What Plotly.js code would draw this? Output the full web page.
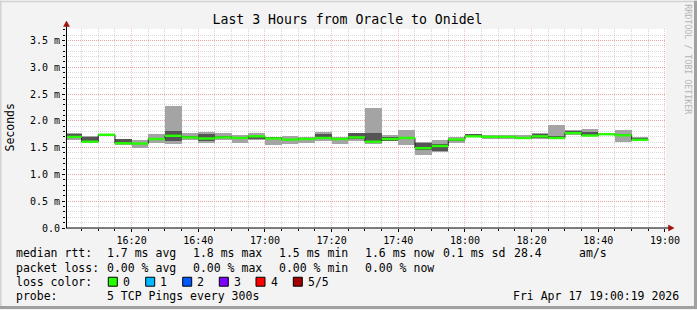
<!DOCTYPE html>
<html><head><meta charset="utf-8">
<script src="https://cdn.plot.ly/plotly-3.0.1.min.js"></script>
<style>html,body{margin:0;padding:0;background:#f3f3f3;} #chart{width:697px;height:310px;}</style>
</head><body><div id="chart"></div>
<script>
// ---- data (ms), one value per 5-minute step starting 16:00 ----
const stepStart = Date.UTC(2026, 3, 17, 16, 0, 0);
const stepMs = 300000;
const pingMin = [1.65,1.595,1.72,1.55,1.50,1.59,1.57,1.64,1.59,1.65,1.59,1.65,1.55,1.57,1.59,1.63,1.57,1.62,1.57,1.62,1.55,1.37,1.42,1.59,1.69,1.66,1.66,1.66,1.665,1.66,1.73,1.71,1.74,1.61,1.635];
const ping2   = [1.69,1.605,1.73,1.575,1.57,1.655,1.63,1.68,1.63,1.68,1.66,1.66,1.665,1.64,1.65,1.67,1.65,1.665,1.60,1.63,1.66,1.455,1.44,1.63,1.70,1.69,1.69,1.675,1.68,1.675,1.745,1.72,1.745,1.72,1.64];
const median  = [1.70,1.61,1.74,1.58,1.575,1.66,1.72,1.69,1.67,1.69,1.68,1.71,1.67,1.65,1.66,1.68,1.66,1.69,1.61,1.66,1.68,1.49,1.53,1.65,1.71,1.70,1.70,1.68,1.71,1.68,1.77,1.725,1.75,1.73,1.645];
const ping4   = [1.755,1.69,1.75,1.655,1.59,1.675,1.81,1.71,1.76,1.71,1.70,1.72,1.69,1.67,1.685,1.75,1.675,1.775,1.78,1.70,1.70,1.595,1.565,1.67,1.745,1.715,1.715,1.70,1.75,1.72,1.81,1.79,1.76,1.76,1.685];
const pingMax = [1.77,1.72,1.76,1.66,1.64,1.75,2.27,1.77,1.79,1.78,1.74,1.77,1.70,1.72,1.69,1.80,1.69,1.78,2.24,1.74,1.83,1.60,1.64,1.70,1.75,1.73,1.73,1.73,1.77,1.92,1.82,1.85,1.765,1.83,1.69];

const yTickVals = [0,0.5,1.0,1.5,2.0,2.5,3.0,3.5];
const yTickText = ['0.0','0.5 m','1.0 m','1.5 m','2.0 m','2.5 m','3.0 m','3.5 m'];

const lossLabels = ['0','1','2','3','4','5/5'];
const lossColors = ['#26ff00','#00b8ff','#0059ff','#7e00ff','#ff0000','#a10000'];

const legendLine1 = [['median rtt:',16],['1.7 ms avg',107.3],['1.8 ms max',193.3],['1.5 ms min',279.3],['1.6 ms now',365],['0.1 ms sd',442.7],['28.4',514.3],['am/s',579.3]];
const legendLine2 = [['packet loss:',16],['0.00 % avg',107.3],['0.00 % max',193.3],['0.00 % min',279.3],['0.00 % now',365]];
const legendLine3 = [['loss color:',16]];
const legendLine4 = [['probe:',16],['5 TCP Pings every 300s',107.3],['Fri Apr 17 19:00:19 2026',513.3]];

// ---- helpers ----
function fmt(ms){
  const d = new Date(ms);
  const p = n => String(n).padStart(2,'0');
  return d.getUTCFullYear()+'-'+p(d.getUTCMonth()+1)+'-'+p(d.getUTCDate())+' '+p(d.getUTCHours())+':'+p(d.getUTCMinutes())+':'+p(d.getUTCSeconds());
}
const N = median.length;
const mids = [], starts = [];
for (let i=0;i<N;i++){ starts.push(fmt(stepStart+i*stepMs)); mids.push(fmt(stepStart+i*stepMs+stepMs/2)); }
const endTime = fmt(stepStart+N*stepMs);

const PL=66, PR=666, PT=28.5, PB=228.5;
const xp = px => (px-PL)/(PR-PL);
const yp = py => (PB-py)/(PB-PT);

const mono = 'DejaVu Sans Mono';

// ---- traces ----
const outer = {type:'bar', x:mids, base:pingMin, y:pingMax.map((v,i)=>v-pingMin[i]), width:stepMs,
  marker:{color:'#a4a4a4', line:{width:0}}, hoverinfo:'skip'};
const inner = {type:'bar', x:mids, base:ping2, y:ping4.map((v,i)=>v-ping2[i]), width:stepMs,
  marker:{color:'#555555', line:{width:0}}, hoverinfo:'skip'};
const medLine = {type:'scatter', mode:'lines', x:starts.concat([endTime]), y:median.concat([median[N-1]]),
  line:{shape:'hv', color:'#202020', width:1}, hoverinfo:'skip'};
const gx=[], gy=[];
for (let i=0;i<N;i++){ gx.push(starts[i], i+1<N?starts[i+1]:endTime, null); gy.push(median[i], median[i], null); }
const green = {type:'scatter', mode:'lines', x:gx, y:gy, line:{color:lossColors[0], width:2.4}, connectgaps:false, hoverinfo:'skip'};

// ---- annotations & shapes ----
const annotations = [];
function addText(list, py){
  list.forEach(([t,px])=>annotations.push({xref:'paper',yref:'paper',x:xp(px-1),y:yp(py),xanchor:'left',yanchor:'middle',
    text:t, showarrow:false, borderpad:0, font:{family:mono,size:11.5,color:'#000'}}));
}
addText(legendLine1, 254);
addText(legendLine2, 268.2);
addText(legendLine3, 282.4);
addText(legendLine4, 296.6);

const sqX = [108.3,145.7,182.7,219.3,256,293.3];
const shapes = [];
lossLabels.forEach((lab,i)=>{
  shapes.push({type:'rect',xref:'paper',yref:'paper',x0:xp(sqX[i]),x1:xp(sqX[i]+9),y0:yp(287),y1:yp(278),
    fillcolor:lossColors[i], line:{color:'#000',width:1}});
  annotations.push({xref:'paper',yref:'paper',x:xp(sqX[i]+13.5),y:yp(282.4),xanchor:'left',yanchor:'middle',
    text:lab, showarrow:false, borderpad:0, font:{family:mono,size:11.5,color:'#000'}});
});

annotations.push({xref:'paper',yref:'paper',x:xp(10.5),y:yp(128),xanchor:'center',yanchor:'middle',textangle:-90,
  text:'Seconds',showarrow:false,font:{family:mono,size:11.5,color:'#000'}});
annotations.push({xref:'paper',yref:'paper',x:xp(688),y:yp(59),xanchor:'center',yanchor:'middle',textangle:90,
  text:'RRDTOOL / TOBI OETIKER',showarrow:false,font:{family:mono,size:8.3,color:'#b4b4b4'}});

// axis lines and arrows
shapes.push({type:'line',xref:'paper',yref:'paper',x0:xp(66),x1:xp(669),y0:yp(228.5),y1:yp(228.5),line:{color:'#000',width:1}});
shapes.push({type:'path',xref:'paper',yref:'paper',
  path:`M ${xp(668.5)} ${yp(225.5)} L ${xp(674)} ${yp(228.5)} L ${xp(668.5)} ${yp(231.5)} Z`, fillcolor:'#a01010', line:{color:'#a01010',width:0.5}});
shapes.push({type:'line',xref:'paper',yref:'paper',x0:xp(66.5),x1:xp(66.5),y0:yp(228.5),y1:yp(25.5),line:{color:'#000',width:1}});
shapes.push({type:'path',xref:'paper',yref:'paper',
  path:`M ${xp(63.5)} ${yp(26)} L ${xp(66.5)} ${yp(20.5)} L ${xp(69.5)} ${yp(26)} Z`, fillcolor:'#a01010', line:{color:'#a01010',width:0.5}});

// frame
shapes.push({type:'line',xref:'paper',yref:'paper',x0:xp(0),x1:xp(697),y0:yp(0.75),y1:yp(0.75),line:{color:'#d2d2d2',width:1.5}});
shapes.push({type:'line',xref:'paper',yref:'paper',x0:xp(0.75),x1:xp(0.75),y0:yp(0),y1:yp(310),line:{color:'#d2d2d2',width:1.5}});
shapes.push({type:'line',xref:'paper',yref:'paper',x0:xp(695.5),x1:xp(695.5),y0:yp(0),y1:yp(310),line:{color:'#a0a0a0',width:3}});
shapes.push({type:'line',xref:'paper',yref:'paper',x0:xp(0),x1:xp(697),y0:yp(308.5),y1:yp(308.5),line:{color:'#a0a0a0',width:3}});

const majorGrid = 'rgba(255,60,60,0.33)';
const minorGrid = 'rgba(140,140,140,0.35)';

const layout = {
  width:697, height:310,
  margin:{l:PL, r:697-PR, t:PT, b:310-PB, pad:0},
  paper_bgcolor:'#f3f3f3', plot_bgcolor:'#ffffff',
  showlegend:false, barmode:'overlay', bargap:0,
  font:{family:mono, size:10, color:'#000'},
  title:{text:'Last 3 Hours from Oracle to Onidel', x:347.5/697, xanchor:'center', y:1-19/310, yanchor:'middle',
    font:{family:mono, size:13.2, color:'#000'}},
  xaxis:{type:'date', range:['2026-04-17 16:00:19','2026-04-17 19:00:19'],
    tick0:'2026-04-17 16:00:00', dtick:1200000, tickformat:'%H:%M',
    showgrid:true, gridcolor:majorGrid, griddash:'1px,1px', gridwidth:1,
    ticks:'outside', ticklen:3, tickcolor:'#000', tickfont:{family:mono,size:10,color:'#000'},
    showline:false, zeroline:false, fixedrange:true,
    minor:{tick0:'2026-04-17 16:00:00', dtick:300000, showgrid:true, gridcolor:minorGrid, griddash:'1px,1px', gridwidth:1,
      ticks:'outside', ticklen:2, tickcolor:'#000'}},
  yaxis:{range:[0,3.713], tickmode:'array', tickvals:yTickVals, ticktext:yTickText,
    showgrid:true, gridcolor:majorGrid, griddash:'1px,1px', gridwidth:1,
    ticks:'outside', ticklen:3, tickcolor:'#000', tickfont:{family:mono,size:10,color:'#000'},
    showline:false, zeroline:false, fixedrange:true,
    minor:{tick0:0, dtick:0.1, showgrid:true, gridcolor:minorGrid, griddash:'1px,1px', gridwidth:1,
      ticks:'outside', ticklen:2, tickcolor:'#000'}},
  annotations:annotations, shapes:shapes
};

Plotly.newPlot('chart', [outer, inner, medLine, green], layout, {staticPlot:true, displayModeBar:false});
</script>
</body></html>
